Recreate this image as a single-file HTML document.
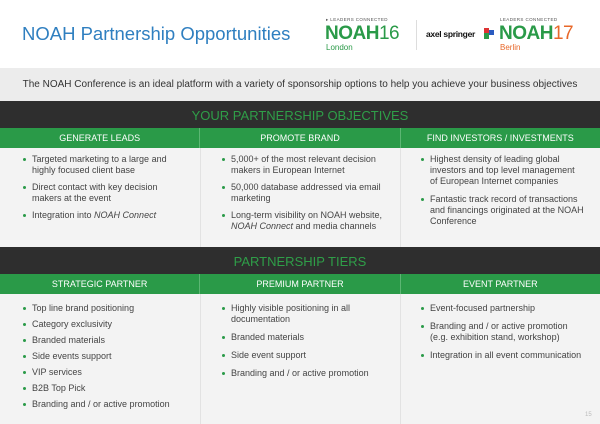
<!DOCTYPE html>
<html><head><style>
*{margin:0;padding:0;box-sizing:border-box}
body{width:600px;height:424px;background:#f3f3f3;font-family:"Liberation Sans",sans-serif;position:relative;overflow:hidden;color:#444}
.a{position:absolute}
.hdr{left:0;top:0;width:600px;height:68px;background:#fff}
.sub{left:0;top:68px;width:600px;height:33px;background:#ececec;font-size:10px;color:#333;text-align:center;line-height:33px}
.dark{left:0;width:600px;height:27px;background:#2e2e2e;color:#2f9e48;font-size:13px;text-align:center;line-height:29px}
.green{left:0;width:600px;height:20px;background:#2a9a48;color:#fff;font-size:9px;display:flex}
.green div{flex:1;text-align:center;line-height:20px;border-right:1px solid #5cb673}
.green div:last-child{border-right:none}
.vl{width:1px;background:#e2e2e2}
.it{position:absolute;font-size:9px;line-height:11px;color:#444}
.it:before{content:"";position:absolute;left:-9px;top:4px;width:3px;height:3px;border-radius:50%;background:#2a9a48}
</style></head><body>
<div class="a hdr"></div>
<div class="a" style="left:22px;top:23px;font-size:18.5px;color:#2f7fc0">NOAH Partnership Opportunities</div>
<div class="a" style="left:326px;top:17px;font-size:4.5px;color:#555;letter-spacing:.4px">▸ LEADERS CONNECTED</div>
<div class="a" style="left:325px;top:24px;font-size:19px;font-weight:bold;color:#2a9a48;line-height:20px;letter-spacing:-.5px">NOAH<span style="font-weight:normal">16</span></div>
<div class="a" style="left:326px;top:43px;font-size:8px;color:#2a9a48">London</div>
<div class="a" style="left:416px;top:20px;width:1px;height:30px;background:#ddd"></div>
<div class="a" style="left:426px;top:29px;font-size:8.5px;font-weight:bold;color:#111;letter-spacing:-.3px">axel springer</div>
<div class="a" style="left:484px;top:28px;width:5px;height:5px;background:#d33"></div>
<div class="a" style="left:489px;top:30px;width:5px;height:5px;background:#2a5bc0"></div>
<div class="a" style="left:484px;top:33px;width:5px;height:6px;background:#2a9a48"></div>
<div class="a" style="left:500px;top:17px;font-size:4.5px;color:#555;letter-spacing:.4px">LEADERS CONNECTED</div>
<div class="a" style="left:499px;top:24px;font-size:19px;font-weight:bold;color:#2a9a48;line-height:20px;letter-spacing:-.5px">NOAH<span style="font-weight:normal;color:#e8682a">17</span></div>
<div class="a" style="left:500px;top:43px;font-size:8px;color:#e8682a">Berlin</div>
<div class="a sub">The NOAH Conference is an ideal platform with a variety of sponsorship options to help you achieve your business objectives</div>
<div class="a dark" style="top:101px">YOUR PARTNERSHIP OBJECTIVES</div>
<div class="a green" style="top:128px"><div>GENERATE LEADS</div><div>PROMOTE BRAND</div><div>FIND INVESTORS / INVESTMENTS</div></div>
<div class="a vl" style="left:200px;top:148px;height:99px"></div>
<div class="a vl" style="left:400px;top:148px;height:99px"></div>
<div class="it" style="left:32px;top:154px">Targeted marketing to a large and<br>highly focused client base</div>
<div class="it" style="left:32px;top:182px">Direct contact with key decision<br>makers at the event</div>
<div class="it" style="left:32px;top:210px">Integration into <i>NOAH Connect</i></div>
<div class="it" style="left:231px;top:154px">5,000+ of the most relevant decision<br>makers in European Internet</div>
<div class="it" style="left:231px;top:182px">50,000 database addressed via email<br>marketing</div>
<div class="it" style="left:231px;top:210px">Long-term visibility on NOAH website,<br><i>NOAH Connect</i> and media channels</div>
<div class="it" style="left:430px;top:154px">Highest density of leading global<br>investors and top level management<br>of European Internet companies</div>
<div class="it" style="left:430px;top:194px">Fantastic track record of transactions<br>and financings originated at the NOAH<br>Conference</div>
<div class="a dark" style="top:247px">PARTNERSHIP TIERS</div>
<div class="a green" style="top:274px"><div>STRATEGIC PARTNER</div><div>PREMIUM PARTNER</div><div>EVENT PARTNER</div></div>
<div class="a vl" style="left:200px;top:294px;height:130px"></div>
<div class="a vl" style="left:400px;top:294px;height:130px"></div>
<div class="it" style="left:32px;top:303px">Top line brand positioning</div>
<div class="it" style="left:32px;top:319px">Category exclusivity</div>
<div class="it" style="left:32px;top:335px">Branded materials</div>
<div class="it" style="left:32px;top:351px">Side events support</div>
<div class="it" style="left:32px;top:367px">VIP services</div>
<div class="it" style="left:32px;top:383px">B2B Top Pick</div>
<div class="it" style="left:32px;top:399px">Branding and / or active promotion</div>
<div class="it" style="left:231px;top:303px">Highly visible positioning in all<br>documentation</div>
<div class="it" style="left:231px;top:332px">Branded materials</div>
<div class="it" style="left:231px;top:350px">Side event support</div>
<div class="it" style="left:231px;top:368px">Branding and / or active promotion</div>
<div class="it" style="left:430px;top:303px">Event-focused partnership</div>
<div class="it" style="left:430px;top:321px">Branding and / or active promotion<br>(e.g. exhibition stand, workshop)</div>
<div class="it" style="left:430px;top:350px">Integration in all event communication</div>
<div class="a" style="left:585px;top:412px;font-size:6px;color:#bbb">15</div>
</body></html>
